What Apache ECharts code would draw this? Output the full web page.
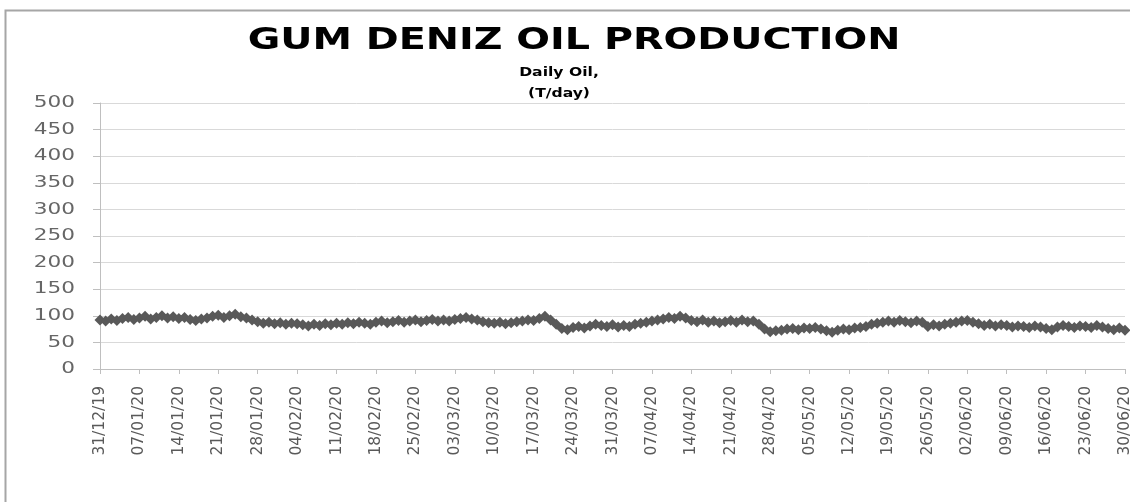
<!DOCTYPE html>
<html>

<head>
    <script src="https://cdn.jsdelivr.net/npm/echarts@6/dist/echarts.min.js"></script>
</head>

<body>
    <div id="chart"></div>
</body>
<style>
    html,
    body {
        margin: 0;
        background: #fff;
        overflow: hidden;
    }

    #chart {
        width: 1130px;
        height: 502px;
    }
</style>
<script>
    // daily oil, T/day, 31/12/19 .. 30/06/20 (one value per day)
    const oilValues = [
        92, 90, 94, 91, 95, 97, 93,
        96, 99, 94, 97, 100, 96, 98,
        95, 97, 93, 91, 94, 96, 99,
        101, 97, 100, 103, 98, 96, 92,
        89, 86, 88, 85, 87, 84, 86,
        85, 83, 81, 84, 82, 85, 83,
        86, 84, 87, 85, 88, 86, 84,
        88, 90, 87, 89, 91, 88, 90,
        92, 89, 91, 93, 90, 92, 90,
        93, 95, 97, 94, 92, 89, 87,
        86, 88, 85, 87, 89, 90, 92,
        91, 95, 99, 92, 84, 76, 74,
        78, 80, 77, 81, 84, 82, 80,
        83, 79, 82, 80, 84, 86, 88,
        90, 92, 94, 97, 95, 99, 96,
        91, 89, 92, 88, 90, 87, 89,
        91, 88, 92, 89, 90, 84, 75,
        70, 72, 73, 75, 76, 74, 77,
        76, 78, 75, 72, 69, 73, 75,
        74, 77, 78, 80, 84, 86, 88,
        90, 88, 91, 89, 87, 90, 88,
        80, 83, 81, 84, 86, 88, 90,
        91, 88, 85, 82, 84, 81, 83,
        82, 79, 81, 80, 78, 81, 79,
        76, 74, 79, 82, 80, 78, 81,
        80, 78, 82, 79, 76, 74, 77,
        73
    ];

    const yTicks = [0, 50, 100, 150, 200, 250, 300, 350, 400, 450, 500];

    const chartTitle = 'GUM DENIZ OIL PRODUCTION';
    const chartSubtitle = 'Daily Oil,\n(T/day)';

    // category labels dd/mm/yy
    const startDate = new Date(2019, 11, 31);
    const dateLabels = oilValues.map((_, i) => {
        const d = new Date(startDate.getFullYear(), startDate.getMonth(), startDate.getDate() + i);
        const dd = String(d.getDate()).padStart(2, '0');
        const mm = String(d.getMonth() + 1).padStart(2, '0');
        const yy = String(d.getFullYear()).slice(2);
        return `${dd}/${mm}/${yy}`;
    });

    const chart = echarts.init(document.getElementById('chart'));

    const frameGraphics = [
        {
            type: 'polyline',
            shape: { points: [[5.5, 600], [5.5, 10.5], [1300, 10.5]] },
            style: { fill: 'none', stroke: '#a6a6a6', lineWidth: 2 },
            silent: true
        },
        {
            // stretched like the source picture
            type: 'text',
            x: 574,
            y: 41,
            scaleX: 1.28,
            style: {
                text: chartTitle,
                align: 'center',
                verticalAlign: 'middle',
                font: 'bold 31px "DejaVu Sans"',
                fill: '#000'
            },
            silent: true
        },
        {
            type: 'text',
            x: 559,
            y: 83,
            scaleX: 1.2,
            style: {
                text: chartSubtitle,
                align: 'center',
                verticalAlign: 'middle',
                font: 'bold 13px "DejaVu Sans"',
                lineHeight: 21,
                fill: '#000'
            },
            silent: true
        }
    ];

    const option = {
        animation: false,
        graphic: frameGraphics,
        grid: {
            left: 100,
            right: 5,
            top: 103,
            bottom: 133,
            outerBoundsMode: 'none'
        },
        xAxis: {
            type: 'category',
            data: dateLabels,
            boundaryGap: false,
            axisLine: { lineStyle: { color: '#bfbfbf', width: 1 } },
            axisTick: {
                interval: 6,
                length: 5,
                lineStyle: { color: '#bfbfbf' }
            },
            axisLabel: {
                interval: 6,
                rotate: 90,
                margin: 17,
                fontFamily: 'DejaVu Sans',
                fontSize: 15.5,
                color: '#595959'
            },
            splitLine: { show: false }
        },
        yAxis: {
            type: 'value',
            min: 0,
            max: 500,
            interval: 50,
            axisLine: { show: true, lineStyle: { color: '#bfbfbf' } },
            axisTick: { show: true, length: 7, lineStyle: { color: '#bfbfbf' } },
            axisLabel: { show: false },
            splitLine: { lineStyle: { color: '#d9d9d9', width: 1 } }
        },
        series: [
            {
                name: 'Daily Oil',
                type: 'line',
                data: oilValues,
                showAllSymbol: true,
                symbol: 'diamond',
                symbolSize: 11,
                lineStyle: { color: '#595959', width: 5 },
                itemStyle: { color: '#595959' }
            }
        ]
    };

    chart.setOption(option);

    // y tick labels placed through the axis scale (the built-in ones drop 0 and 500)
    const yLabelGraphics = yTicks.map(v => {
        const [px, py] = chart.convertToPixel({ gridIndex: 0 }, [0, v]);
        return {
            type: 'text',
            x: px - 25,
            y: py,
            scaleX: 1.35,
            style: {
                text: String(v),
                align: 'right',
                verticalAlign: 'middle',
                font: '16px "DejaVu Sans"',
                fill: '#666666'
            },
            silent: true
        };
    });

    chart.setOption({ graphic: frameGraphics.concat(yLabelGraphics) });
</script>

</html>
